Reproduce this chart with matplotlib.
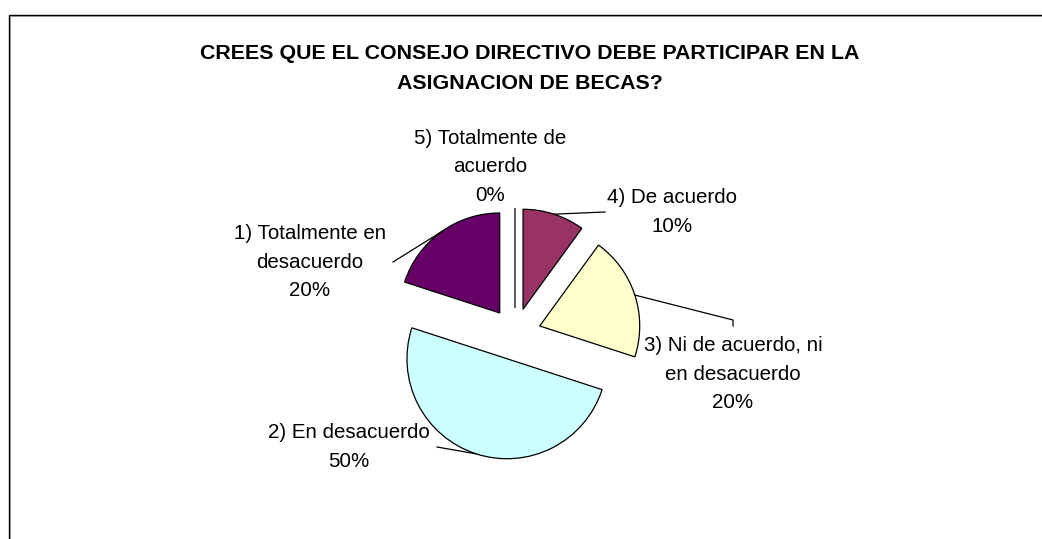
import numpy as np
import matplotlib.pyplot as plt

W, H = 1042, 539

# chart data
title = "CREES QUE EL CONSEJO DIRECTIVO DEBE PARTICIPAR EN LA\nASIGNACION DE BECAS?"
categories = ["1) Totalmente en\ndesacuerdo", "2) En desacuerdo",
              "3) Ni de acuerdo, ni\nen desacuerdo", "4) De acuerdo",
              "5) Totalmente de\nacuerdo"]
shares = [20, 50, 20, 10, 0]
colors = ["#660066", "#CCFFFF", "#FFFFCC", "#993366", "#9999FF"]

# label layout in pixels (y measured from top): text centre, leader path end
label_pos = [(310, 262), (349, 447), (733, 374), (672, 212), (490, 167)]
leader_pts = [[(393, 262)], [(437, 447)], [(733, 320), (733, 326)], [(605, 212)], []]

plt.rcParams['font.family'] = ['Liberation Sans', 'DejaVu Sans']

fig = plt.figure(figsize=(W / 100, H / 100), dpi=100)
ax = fig.add_axes([0, 0, 1, 1])

radius = 100
centre = (515, H - 334)
explode = [0.26 * radius] * len(shares)

wedges, _ = ax.pie(shares, colors=colors, startangle=90, counterclock=True,
                   radius=radius, center=centre, explode=explode,
                   wedgeprops=dict(edgecolor='black', linewidth=0.9))
ax.set_xlim(0, W)
ax.set_ylim(0, H)
ax.set_aspect('auto')
ax.axis('off')

# labels and leader lines
for w, lab, pct, (tx, ty), pts in zip(wedges, categories, shares, label_pos, leader_pts):
    ax.text(tx, H - ty, f"{lab}\n{pct}%", ha='center', va='center',
            fontsize=14.8, linespacing=1.65, color='black')
    if pts:
        ang = np.deg2rad((w.theta1 + w.theta2) / 2)
        cx, cy = w.center
        xs = [cx + w.r * np.cos(ang)] + [p[0] for p in pts]
        ys = [cy + w.r * np.sin(ang)] + [H - p[1] for p in pts]
        ax.plot(xs, ys, color='black', lw=0.9)

# title
ax.text(530, H - 68.5, title, ha='center', va='center', fontsize=15.4,
        fontweight='bold', linespacing=1.7)

# chart area border (left and top edges visible)
ax.plot([8.7, 8.7, W + 5], [-5, H - 14.7, H - 14.7], color='black', lw=1.0)
ax.plot([10.2, 10.2, W + 5], [-5, H - 16.0, H - 16.0], color='#909090', lw=0.7)

fig.savefig("out.png", dpi=100)
